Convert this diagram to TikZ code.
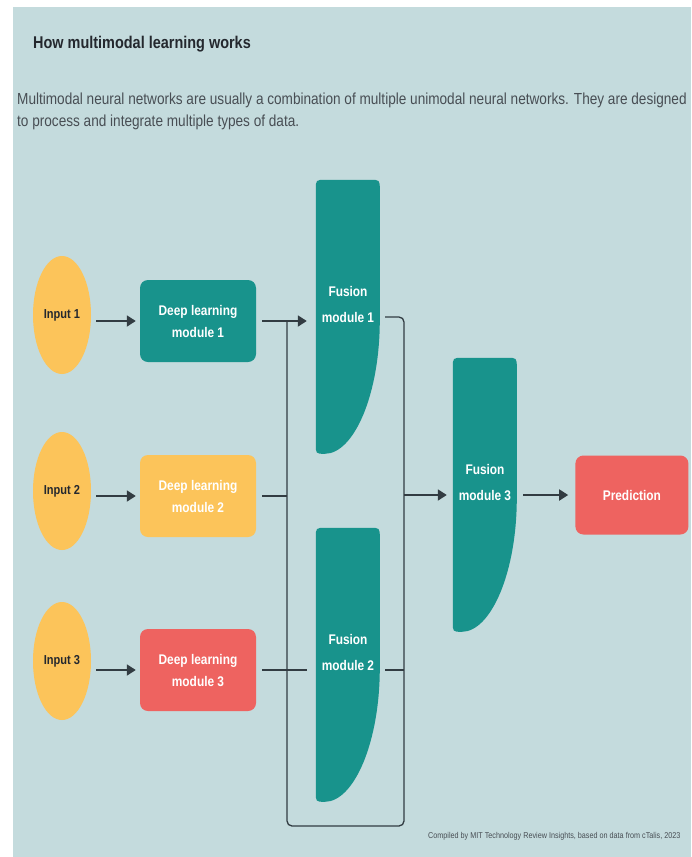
\documentclass[tikz,border=0pt]{standalone}
\usepackage{fontspec}
\setmainfont{Liberation Sans}[FakeStretch=0.85]
\usepackage{xcolor}
\definecolor{bgc}{RGB}{196,219,221}
\definecolor{mteal}{RGB}{24,147,140}
\definecolor{myellow}{RGB}{252,196,90}
\definecolor{mred}{RGB}{238,99,96}
\definecolor{dline}{RGB}{50,60,66}
\definecolor{dtext}{RGB}{36,40,46}
\definecolor{gtext}{RGB}{72,78,84}
\usetikzlibrary{arrows.meta,shapes.geometric,positioning,calc}
\newcommand{\fusionshape}[1]{%
  \fill[mteal,shift={(#1.north west)}]
    (0pt,-264pt) -- (0pt,-10pt) .. controls (0pt,0pt) .. (10pt,0pt) -- (54pt,0pt) .. controls (64pt,0pt) .. (64pt,-10pt)
    -- (64pt,-140pt) .. controls (64pt,-215pt) and (38pt,-274pt) .. (9pt,-274pt) .. controls (0pt,-274pt) .. (0pt,-264pt) -- cycle;}

\begin{document}
\begin{tikzpicture}[x=1pt,y=-1pt,
  inbox/.style={ellipse,fill=myellow,minimum width=58pt,minimum height=118pt,inner sep=0pt,text=dtext,font=\fontsize{13}{15}\selectfont\bfseries},
  dlbox/.style={rectangle,rounded corners=8pt,minimum width=116pt,minimum height=82pt,align=center,text=white,font=\fontsize{14}{22}\selectfont\bfseries},
  fusebox/.style={rectangle,inner sep=0pt,minimum width=64pt,minimum height=274pt},
  ftext/.style={align=center,text=white,font=\fontsize{14}{26}\selectfont\bfseries},
  predbox/.style={rectangle,rounded corners=8pt,fill=mred,minimum width=113pt,minimum height=79pt,text=white,font=\fontsize{14}{16}\selectfont\bfseries},
  arrow/.style={-{Triangle[length=9pt,width=11pt]},line width=1.8pt,dline},
  wire/.style={line width=1.3pt,dline}
]
  \fill[white,use as bounding box] (0,0) rectangle (691,857);
  \fill[bgc] (13,7) rectangle (691,857);

  \node[anchor=base west,inner sep=0pt,text=dtext,font=\fontsize{17}{19}\selectfont\bfseries] (title) at (33,48) {How multimodal learning works};
  \node[anchor=north west,inner sep=0pt,align=left,text=gtext,font=\fontsize{16}{22}\selectfont] (intro) at (17,93)
    {Multimodal neural networks are usually a combination of multiple unimodal neural networks. They are designed\\
     to process and integrate multiple types of data.};

  \node[inbox] (in1) at (62,315) {Input 1};
  \node[inbox] (in2) at (62,491) {Input 2};
  \node[inbox] (in3) at (62,661) {Input 3};

  \node[dlbox,fill=mteal] (dl1) at (198,321) {Deep learning\\module 1};
  \node[dlbox,fill=myellow] (dl2) at (198,496) {Deep learning\\module 2};
  \node[dlbox,fill=mred] (dl3) at (198,670) {Deep learning\\module 3};

  \node[fusebox] (f1) at (348,317) {};
  \node[fusebox] (f2) at (348,665) {};
  \node[fusebox] (f3) at (485,495) {};
  \fusionshape{f1}
  \fusionshape{f2}
  \fusionshape{f3}
  \node[ftext] (f1txt) at ([yshift=13pt]f1.center) {Fusion\\module 1};
  \node[ftext] (f2txt) at ([yshift=13pt]f2.center) {Fusion\\module 2};
  \node[ftext] (f3txt) at ([yshift=13pt]f3.center) {Fusion\\module 3};
  \node[predbox,right=58pt of f3] (pred) {Prediction};

  \coordinate (bustl) at (287,321);
  \coordinate (busbl) at (287,826);
  \coordinate (busbr) at (404,826);

  \draw[arrow,shorten <=5pt,shorten >=4pt] (in1.east |- dl1.west) -- (dl1.west);
  \draw[arrow,shorten <=5pt,shorten >=4pt] (in2.east |- dl2.west) -- (dl2.west);
  \draw[arrow,shorten <=5pt,shorten >=4pt] (in3.east |- dl3.west) -- (dl3.west);

  \draw[arrow,shorten <=6pt,shorten >=9pt] (dl1.east) -- (dl1.east -| f1.west);
  \draw[wire,shorten <=6pt] (dl2.east) -- (dl2.east -| bustl);
  \draw[wire,shorten <=6pt,shorten >=9pt] (dl3.east) -- (dl3.east -| f2.west);
  \draw[wire,shorten <=5pt] (dl3.east -| f2.east) -- (dl3.east -| busbr);
  \draw[wire,rounded corners=5pt,shorten <=5pt] (f1.east) -- (f1.east -| busbr) -- (busbr) -- (busbl) -- (bustl);

  \draw[arrow,shorten >=6pt] (f3.west -| busbr) -- (f3.west);
  \draw[arrow,shorten <=6pt,shorten >=7pt] (f3.east) -- (pred.west);

  \node[anchor=base west,inner sep=0pt,text=gtext,font=\fontsize{8.5}{10}\selectfont] (credit) at (428,838)
    {Compiled by MIT Technology Review Insights, based on data from cTalis, 2023};
\end{tikzpicture}
\end{document}
